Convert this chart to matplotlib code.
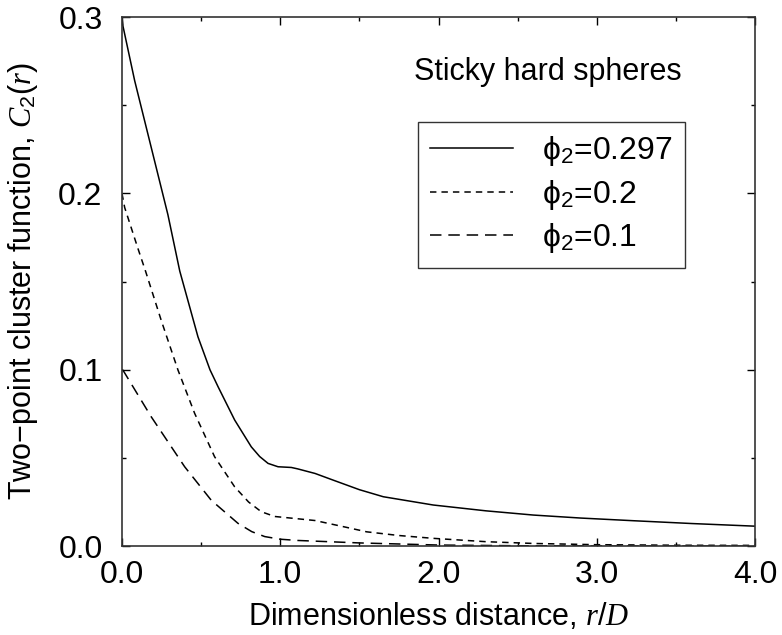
import numpy as np
import matplotlib
matplotlib.use("Agg")
import matplotlib.pyplot as plt
from matplotlib.ticker import MultipleLocator

# values
r_297 = [0.0, 0.006, 0.08, 0.185, 0.29, 0.365, 0.48, 0.556, 0.607, 0.712, 0.817,
         0.87, 0.923, 0.986, 1.07, 1.11, 1.22, 1.335, 1.5, 1.651, 1.967, 2.3,
         2.6, 2.9, 3.23, 3.6, 4.0]
c_297 = [0.300, 0.295, 0.264, 0.226, 0.188, 0.156, 0.1187, 0.100, 0.0904, 0.0715,
         0.0563, 0.0508, 0.0469, 0.045, 0.0446, 0.0438, 0.0412, 0.0374, 0.032,
         0.028, 0.0233, 0.020, 0.0176, 0.0159, 0.0144, 0.0128, 0.0113]

r_02 = [0.0, 0.017, 0.1, 0.15, 0.248, 0.354, 0.459, 0.585, 0.712, 0.80, 0.88,
        0.965, 1.11, 1.22, 1.4, 1.546, 1.75, 1.967, 2.3, 2.6, 3.0, 3.5, 4.0]
c_02 = [0.200, 0.192, 0.169, 0.1556, 0.128, 0.0998, 0.0753, 0.0507, 0.0336,
        0.025, 0.0195, 0.0168, 0.0155, 0.0145, 0.011, 0.0081, 0.0060, 0.0044,
        0.0025, 0.0015, 0.0008, 0.0005, 0.0004]

r_01 = [0.0, 0.006, 0.185, 0.396, 0.564, 0.733, 0.82, 0.902, 1.0, 1.11, 1.25,
        1.5, 2.0, 2.5, 3.0, 4.0]
c_01 = [0.100, 0.0998, 0.0733, 0.045, 0.026, 0.0129, 0.0082, 0.0054, 0.0039,
        0.0032, 0.0027, 0.0018, 0.0006, 0.0002, 0.0001, 0.0]

labels = ["ϕ$_2$=0.297", "ϕ$_2$=0.2", "ϕ$_2$=0.1"]
x_ticks = [0.0, 1.0, 2.0, 3.0, 4.0]
y_ticks = [0.0, 0.1, 0.2, 0.3]

plt.rcParams['font.family'] = ['Liberation Sans', 'DejaVu Sans']
plt.rcParams['mathtext.fontset'] = 'custom'
plt.rcParams['mathtext.rm'] = 'Liberation Sans'
plt.rcParams['mathtext.it'] = 'Liberation Serif:italic'

fig = plt.figure(figsize=(7.82, 6.35), dpi=100)
ax = fig.add_axes([0.156, 0.140, 0.8095, 0.833])

ax.plot(r_297, c_297, color='black', lw=1.1, label=labels[0])
ax.plot(r_02, c_02, color='black', lw=1.1, dashes=(4.2, 3.3), label=labels[1])
ax.plot(r_01, c_01, color='black', lw=1.1, dashes=(7.5, 4.5), label=labels[2])

ax.set_xlim(0, 4)
ax.set_ylim(0, 0.3)
ax.set_xticks(x_ticks)
ax.set_yticks(y_ticks)
ax.set_xticklabels(['%.1f' % v for v in x_ticks])
ax.set_yticklabels(['%.1f' % v for v in y_ticks])
ax.xaxis.set_minor_locator(MultipleLocator(0.5))
ax.yaxis.set_minor_locator(MultipleLocator(0.05))
ax.tick_params(which='both', direction='in', top=True, right=True, width=1)
ax.tick_params(which='major', length=6, labelsize=23)
ax.tick_params(which='minor', length=3)
ax.tick_params(axis='x', which='major', pad=10)
ax.tick_params(axis='y', which='major', pad=14)
for s in ax.spines.values():
    s.set_linewidth(1.2)
    s.set_color('#333333')

ax.set_xlabel('Dimensionless distance, $r/D$', fontsize=22, labelpad=8)
ax.set_ylabel('Two\u2212point cluster function, $C_2(r)$', fontsize=22, labelpad=13)

ax.text(0.461, 0.896, 'Sticky hard spheres', transform=ax.transAxes,
        fontsize=22, ha='left', va='center')

leg = ax.legend(loc='upper left', bbox_to_anchor=(0.4676, 0.8015),
                borderaxespad=0, fontsize=23, frameon=True, fancybox=False,
                handlelength=2.6, handletextpad=0.9, labelspacing=0.3,
                borderpad=0.38)
leg.get_frame().set_edgecolor('black')
leg.get_frame().set_linewidth(1.0)

fig.savefig('out.png', dpi=100)
